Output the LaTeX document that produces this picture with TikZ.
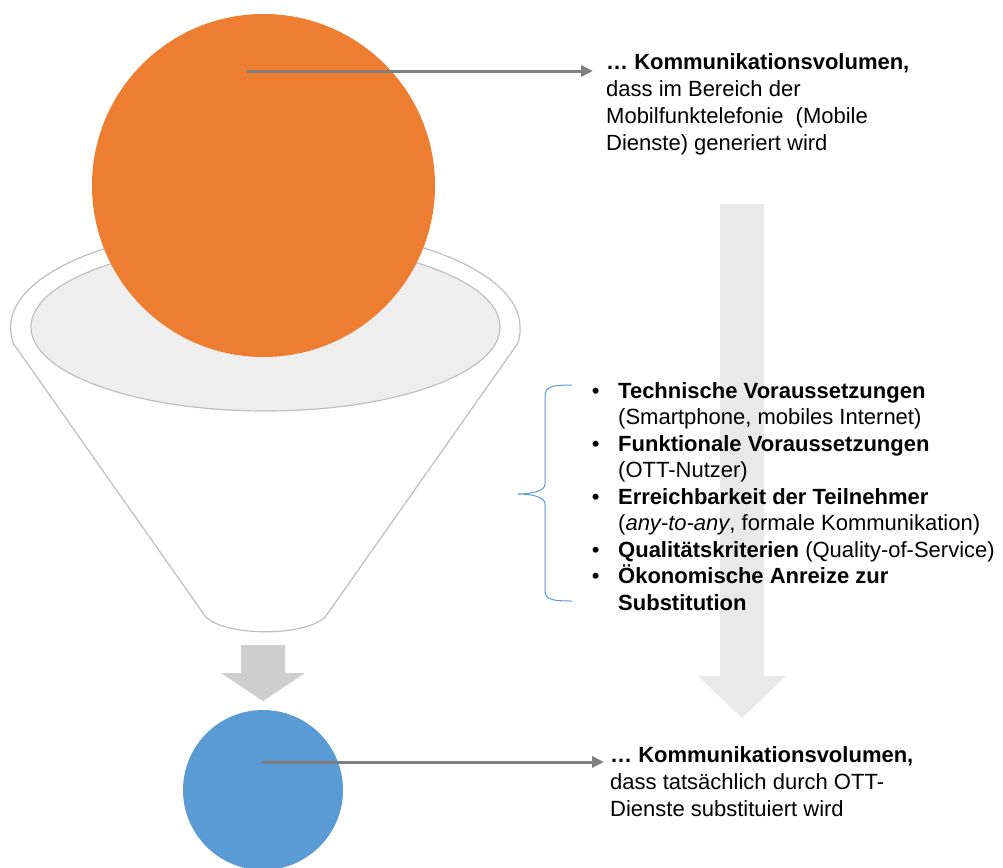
\documentclass[tikz,border=0pt]{standalone}
\usepackage{fontspec}
\setmainfont{Liberation Sans}
\usetikzlibrary{arrows.meta}
\definecolor{orangeC}{HTML}{ED7D31}
\definecolor{blueC}{HTML}{5B9BD5}
\definecolor{lineC}{HTML}{7F7F7F}
\definecolor{bigArrowC}{RGB}{233,233,233}
\definecolor{smallArrowC}{RGB}{206,206,206}
\definecolor{funnelC}{HTML}{BFBFBF}
\definecolor{innerC}{HTML}{EEEEEE}
\tikzset{
  ball/.style={circle, inner sep=0pt, draw=none},
  conn/.style={draw=lineC, line width=3pt, -{Triangle[length=12pt,width=11pt]}},
  txt/.style={inner sep=0pt, anchor=base west, font=\fontsize{22}{27}\selectfont},
  funnelline/.style={draw=funnelC, line width=1.2pt},
  bracestyle/.style={draw=blueC, line width=1pt}
}
\begin{document}
\begin{tikzpicture}[x=1pt, y=-1pt]
\path[use as bounding box, fill=white] (0,0) rectangle (1003,867);

% funnel
\path[funnelline, fill=white] (10.6,327)
  arc[start angle=180, end angle=360, x radius=254.7, y radius=101]
  .. controls (520.3,333) .. (518,343) -- (328,613)
  .. controls (315,638) and (216,638) .. (203,613)
  -- (13,343) .. controls (10.8,333) .. (10.6,327) -- cycle;
\path[funnelline, fill=innerC] (265.5,327) ellipse[x radius=234.5, y radius=84];

% large circle
\node[ball, fill=orangeC, minimum size=343pt] (big) at (263.5,185.5) {};

% big background arrow
\fill[bigArrowC] (720,204) -- (764,204) -- (764,676) -- (786,676) -- (742,718) -- (698,676) -- (720,676) -- cycle;

% small arrow under funnel
\fill[smallArrowC] (241,645) -- (285,645) -- (285,673) -- (305,673) -- (263,701) -- (221,673) -- (241,673) -- cycle;

% small circle
\node[ball, fill=blueC, minimum size=160pt] (small) at (263,790) {};

% connectors
\coordinate (s1) at (247,71);
\coordinate (e1) at (593,71);
\coordinate (s2) at (262,762);
\coordinate (e2) at (604,762);
\draw[conn] (s1) -- (e1);
\draw[conn] (s2) -- (e2);

% texts
\node[txt] (t1) at (606,70) {\vtop{\baselineskip=27pt
  \hbox{\textbf{… Kommunikationsvolumen,}}
  \hbox{dass im Bereich der}
  \hbox{Mobilfunktelefonie~ (Mobile}
  \hbox{Dienste) generiert wird}}};

\node[txt] (t2) at (610,762) {\vtop{\baselineskip=27pt
  \hbox{\textbf{… Kommunikationsvolumen,}}
  \hbox{dass tatsächlich durch OTT-}
  \hbox{Dienste substituiert wird}}};

\node[txt] (list) at (591.6,398) {\vtop{\baselineskip=26.5pt
  \hbox{\hbox to 26.4pt{•\hfil}\textbf{Technische Voraussetzungen}}
  \hbox{\hbox to 26.4pt{\hfil}(Smartphone, mobiles Internet)}
  \hbox{\hbox to 26.4pt{•\hfil}\textbf{Funktionale Voraussetzungen}}
  \hbox{\hbox to 26.4pt{\hfil}(OTT-Nutzer)}
  \hbox{\hbox to 26.4pt{•\hfil}\textbf{Erreichbarkeit der Teilnehmer}}
  \hbox{\hbox to 26.4pt{\hfil}(\textit{any-to-any}, formale Kommunikation)}
  \hbox{\hbox to 26.4pt{•\hfil}\textbf{Qualitätskriterien} (Quality-of-Service)}
  \hbox{\hbox to 26.4pt{•\hfil}\textbf{Ökonomische Anreize zur}}
  \hbox{\hbox to 26.4pt{\hfil}\textbf{Substitution}}}};

% brace
\path[bracestyle] (572,385) .. controls (554,385) and (545,386) .. (545,396)
  -- (545,484) .. controls (545,491) and (532,494) .. (518,494)
  .. controls (532,494) and (545,497) .. (545,504)
  -- (545,591) .. controls (545,600) and (554,601) .. (572,601);
\end{tikzpicture}
\end{document}
